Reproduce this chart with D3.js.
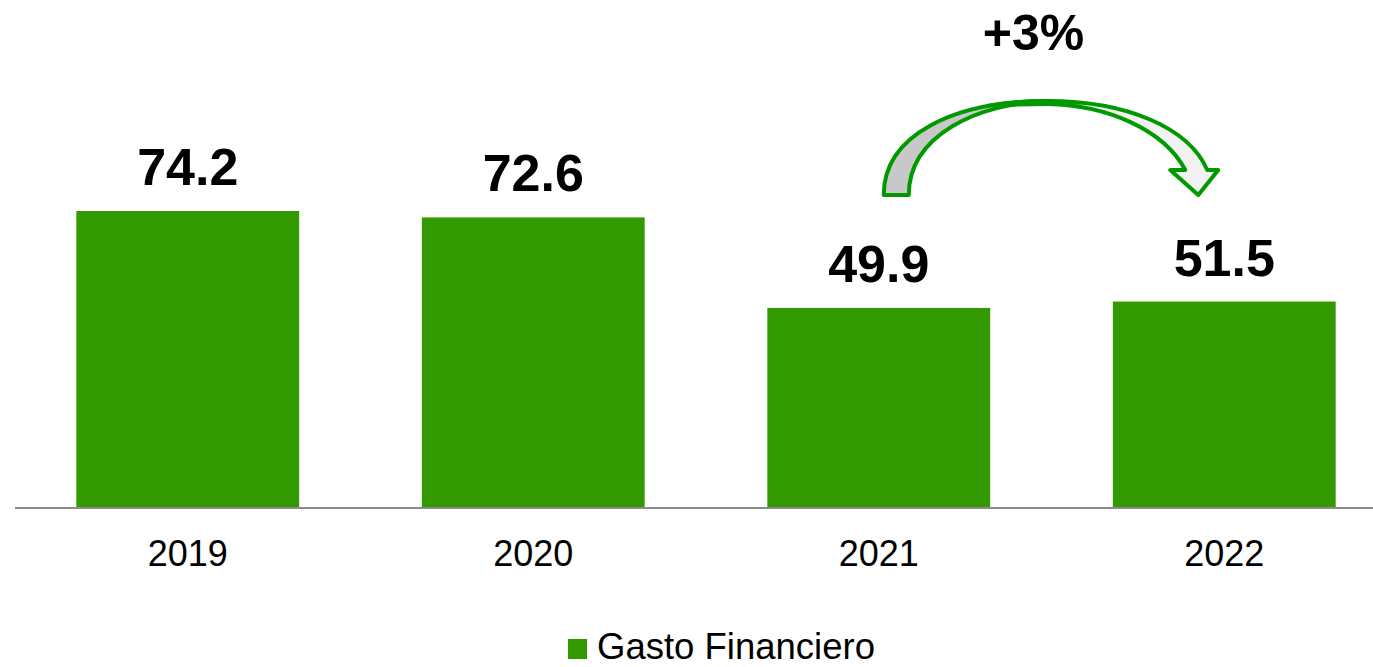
<!DOCTYPE html>
<html>
<head>
<meta charset="utf-8">
<script src="https://cdn.jsdelivr.net/npm/d3@7"></script>
<style>
  html, body { margin: 0; padding: 0; background: #ffffff; }
  svg { display: block; font-family: Arial, "Liberation Sans", Helvetica, sans-serif; }
</style>
</head>
<body>
<svg id="chart" width="1373" height="667"></svg>
<script>
// Gasto Financiero by year
const years = ["2019", "2020", "2021", "2022"];
const gasto = [74.2, 72.6, 49.9, 51.5];
const seriesName = "Gasto Financiero";
const growthLabel = "+3%";

const W = 1373, H = 667;
const baseY = 507;
const barColor = "#339900";
const arrowGreen = "#009900";

const svg = d3.select("#chart");

const x = d3.scaleBand()
  .domain(years)
  .range([15, 1397])
  .paddingInner(0.355)
  .paddingOuter(0.1775);

const y = d3.scaleLinear()
  .domain([0, 74.2])
  .range([baseY, 211]);

const data = years.map((yr, i) => ({ year: yr, value: gasto[i] }));

// bars
svg.append("g").selectAll("rect")
  .data(data)
  .join("rect")
  .attr("x", d => x(d.year))
  .attr("y", d => y(d.value))
  .attr("width", x.bandwidth())
  .attr("height", d => baseY - y(d.value))
  .attr("fill", barColor);

// baseline
svg.append("line")
  .attr("x1", 15).attr("x2", W)
  .attr("y1", baseY + 1).attr("y2", baseY + 1)
  .attr("stroke", "#8c8c8c")
  .attr("stroke-width", 2);

// value labels
svg.append("g").selectAll("text")
  .data(data)
  .join("text")
  .attr("x", d => x(d.year) + x.bandwidth() / 2)
  .attr("y", d => y(d.value) - 26)
  .attr("text-anchor", "middle")
  .attr("font-weight", "bold")
  .attr("font-size", 52)
  .attr("fill", "#000")
  .text(d => d.value.toFixed(1));

// category axis
const xAxis = svg.append("g")
  .attr("transform", `translate(0,${baseY})`)
  .call(d3.axisBottom(x).tickSize(0).tickPadding(0));
xAxis.select(".domain").remove();
xAxis.selectAll("text")
  .attr("dy", null)
  .attr("y", 59)
  .attr("font-size", 36)
  .attr("font-family", "Arial, 'Liberation Sans', sans-serif")
  .attr("fill", "#000");

// growth arrow between the last two bars
const cx21 = x("2021") + x.bandwidth() / 2;
const cx22 = x("2022") + x.bandwidth() / 2;
const ax0 = cx21 + 5;     // outer left foot
const ax1 = cx21 + 30;    // inner left foot
const topX = (cx21 + cx22) / 2 - 4;
const footY = 195, topY = 101;

const arrow = svg.append("g")
  .attr("stroke", arrowGreen)
  .attr("stroke-width", 4)
  .attr("stroke-linejoin", "round");

// right half (lighter face) with arrowhead
arrow.append("path")
  .attr("fill", "#f2f2f2")
  .attr("d", `M ${topX - 60},106
    C ${topX - 30},101 ${topX - 10},${topY} ${topX},${topY}
    C ${topX + 80},${topY} ${cx22 - 35},128 ${cx22 - 17},170
    L ${cx22 - 6},170
    L ${cx22 - 26},${footY}
    L ${cx22 - 54},170
    L ${cx22 - 39},170
    C ${cx22 - 60},130 ${topX + 60},105 ${topX},104
    C ${topX - 25},104 ${topX - 45},105 ${topX - 60},106 Z`);

// left half (darker face)
arrow.append("path")
  .attr("fill", "#c8c8c8")
  .attr("d", `M ${ax0},${footY}
    C ${ax0},135 ${ax0 + 70},${topY} ${topX},${topY}
    C ${ax0 + 95},103 ${ax1},135 ${ax1},${footY} Z`);

svg.append("text")
  .attr("x", topX - 14)
  .attr("y", 50)
  .attr("text-anchor", "middle")
  .attr("font-weight", "bold")
  .attr("font-size", 50)
  .attr("fill", "#000")
  .text(growthLabel);

// legend
const legend = svg.append("g").attr("transform", "translate(568,639)");
legend.append("rect")
  .attr("width", 19).attr("height", 20)
  .attr("fill", barColor);
legend.append("text")
  .attr("x", 29)
  .attr("y", 20)
  .attr("font-size", 36.5)
  .attr("fill", "#000")
  .text(seriesName);
</script>
</body>
</html>
